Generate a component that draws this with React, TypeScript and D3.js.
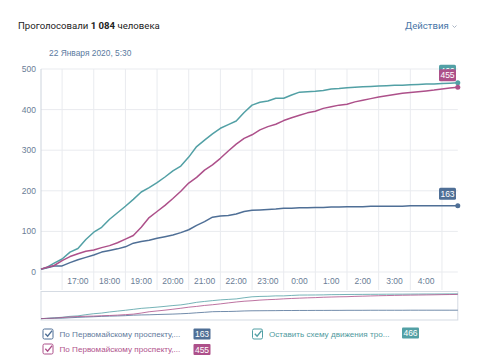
import React from "react";
import * as d3 from "d3";

const times = [
  "16:20","16:30","16:45","17:00","17:15","17:30","17:45","18:00","18:15","18:30","18:45",
  "19:00","19:15","19:30","19:45","20:00","20:15","20:30","20:45","21:00","21:15","21:30","21:45",
  "22:00","22:15","22:30","22:45","23:00","23:15","23:30","23:45","0:00","0:15","0:30","0:45",
  "1:00","1:15","1:30","1:45","2:00","2:15","2:30","2:45","3:00","3:15","3:30","3:45",
  "4:00","4:15","4:30","4:45","5:00","5:15","5:30"
];

const seriesBlue = [
  7,10,15,15,23,30,36,42,49,53,57,
  62,71,75,78,83,87,91,97,104,115,124,135,
  138,139,143,149,152,153,154,155,157,157,158,158,
  159,159,160,160,161,161,161,162,162,162,162,162,
  163,163,163,163,163,163,163
];

const seriesMagenta = [
  7,11,16,28,38,45,51,54,60,65,72,
  81,90,110,134,149,164,181,199,219,233,251,264,
  280,298,315,329,338,350,358,364,373,380,386,392,
  396,403,407,411,413,419,423,427,431,434,437,440,
  442,444,446,448,451,453,455
];

const seriesTeal = [
  7,11,22,32,49,58,80,98,110,130,146,
  162,179,197,208,220,234,249,261,283,309,325,340,
  354,363,372,393,411,418,421,428,428,436,443,444,
  445,447,451,452,454,455,456,457,458,459,460,460,
  461,462,463,463,464,465,466
];

const legendNames = [
  "По Первомайскому проспекту,...",
  "По Первомайскому проспекту,...",
  "Оставить схему движения тро...",
];
const legendTotals = [163, 455, 466];
const yTicks = [0, 100, 200, 300, 400, 500];

const COLORS = ["#4f6f96", "#ad508a", "#52a0a5"];
const TEXT_COLORS = ["#5f7a9c", "#b0528c", "#4f9a9e"];

function toDate(t: string): Date {
  const [h, m] = t.split(":").map(Number);
  const day = h < 12 ? 22 : 21;
  return new Date(2020, 0, day, h, m);
}

export default function App() {
  const W = 477, H = 363;
  const left = 41, right = 457.8, top = 69, bottom = 272;
  const x = d3.scaleTime().domain([toDate(times[0]), toDate(times[times.length - 1])]).range([left, right]);
  const y = d3.scaleLinear().domain([0, 500]).range([bottom, top]);
  const yNav = d3.scaleLinear().domain([0, 500]).range([319, 292]);

  const series = [seriesBlue, seriesMagenta, seriesTeal];
  const pts = series.map((s) => s.map((v, i) => [x(toDate(times[i])), v] as [number, number]));
  const line = d3.line<[number, number]>().x((d) => d[0]).y((d) => y(d[1]));
  const navLine = d3.line<[number, number]>().x((d) => d[0]).y((d) => yNav(d[1]));

  const hours = d3.timeHour.every(1)!.range(toDate("17:00"), toDate("5:01"));
  const fmt = d3.timeFormat("%-H:%M");
  const axisFont = "'Liberation Sans', Arial, sans-serif";

  const drawOrder = [0, 2, 1];
  const legendPos = [
    { cx: 43, ty: 337, bx: 193.5, by: 328.5 },
    { cx: 43, ty: 352, bx: 193.5, by: 344 },
    { cx: 252.5, ty: 337, bx: 402, by: 327.5 },
  ];

  return (
    <svg width={W} height={H} style={{ position: "absolute", left: 0, top: 0, background: "#fff" }}>
      <text x={18} y={29} fontFamily="Roboto, sans-serif" fontSize={9.6} fill="#222">
        Проголосовали <tspan fontWeight="bold">1 084</tspan> человека
      </text>
      <text x={405} y={29} fontFamily="Roboto, sans-serif" fontSize={9.6} fill="#4a76a8">
        Действия
      </text>
      <path d="M452.5,25.5 l2,2 l2,-2" fill="none" stroke="#a0adbd" strokeWidth={0.9} />
      <text x={49} y={56} fontFamily={axisFont} fontSize={8.4} fill="#5a7aa0">
        22 Января 2020, 5:30
      </text>

      {yTicks.map((t) => (
        <line key={"gy" + t} x1={left} x2={right} y1={y(t)} y2={y(t)} stroke="#e9ebef" strokeWidth={1} />
      ))}
      {hours.map((h, i) => (
        <line key={"gx" + i} x1={x(h)} x2={x(h)} y1={top} y2={290} stroke="#e9ebef" strokeWidth={1} />
      ))}
      <line x1={left} x2={left} y1={top} y2={290} stroke="#cdd4dd" strokeWidth={1} />

      {yTicks.map((t) => (
        <text key={"yl" + t} x={36} y={y(t) + 3} textAnchor="end" fontFamily={axisFont} fontSize={8.5} fill="#6a7d96">
          {t}
        </text>
      ))}
      {hours.slice(0, -1).map((h, i) => (
        <text
          key={"xl" + i}
          x={(x(h) + x(hours[i + 1])) / 2}
          y={284}
          textAnchor="middle"
          fontFamily={axisFont}
          fontSize={8.5}
          fill="#6a7d96"
        >
          {fmt(h)}
        </text>
      ))}

      {drawOrder.map((k) => (
        <path key={"ln" + k} d={line(pts[k]) || ""} fill="none" stroke={COLORS[k]} strokeWidth={1.5} strokeLinejoin="round" />
      ))}
      {drawOrder.map((k) => {
        const p = pts[k][pts[k].length - 1];
        return <circle key={"dot" + k} cx={p[0]} cy={y(p[1])} r={2.5} fill={COLORS[k]} />;
      })}
      {[0, 2, 1].map((k) => {
        const p = pts[k][pts[k].length - 1];
        const by = y(p[1]) - 6 - 12;
        return (
          <g key={"badge" + k}>
            <rect x={439} y={by} width={17} height={12} rx={1.5} fill={COLORS[k]} />
            <text x={447.5} y={by + 9} textAnchor="middle" fontFamily={axisFont} fontSize={8.5} fill="#fff">
              {legendTotals[k]}
            </text>
          </g>
        );
      })}

      <rect x={left} y={291.5} width={right - left} height={28.5} fill="none" stroke="#d5dbe3" strokeWidth={1} />
      {drawOrder.map((k) => (
        <path key={"nv" + k} d={navLine(pts[k]) || ""} fill="none" stroke={COLORS[k]} strokeWidth={1} opacity={0.8} />
      ))}

      {legendPos.map((p, k) => (
        <g key={"lg" + k}>
          <rect x={p.cx} y={p.ty - 8} width={10} height={10} rx={1.5} fill="#fff" stroke={COLORS[k]} strokeWidth={1} />
          <path
            d={`M${p.cx + 2.3},${p.ty - 3.2} l2.3,2.4 l4.5,-5.6`}
            fill="none"
            stroke={COLORS[k]}
            strokeWidth={1.4}
          />
          <text x={p.cx + 16.5} y={p.ty} fontFamily={axisFont} fontSize={8.1} fill={TEXT_COLORS[k]}>
            {legendNames[k]}
          </text>
          <rect x={p.bx} y={p.by} width={17} height={11} rx={1} fill={COLORS[k]} />
          <text x={p.bx + 8.5} y={p.by + 8.5} textAnchor="middle" fontFamily={axisFont} fontSize={8.5} fill="#fff">
            {legendTotals[k]}
          </text>
        </g>
      ))}
    </svg>
  );
}
